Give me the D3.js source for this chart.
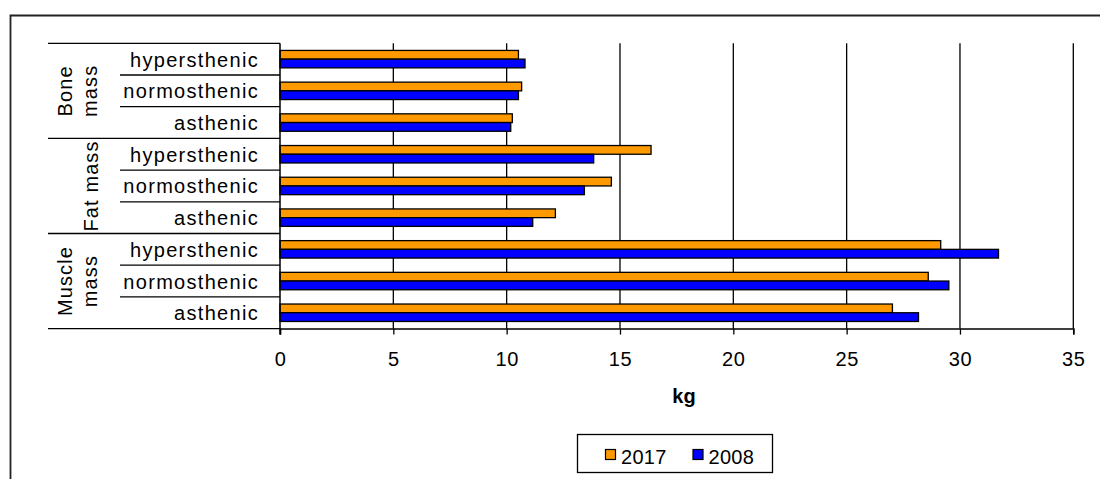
<!DOCTYPE html>
<html>
<head>
<meta charset="utf-8">
<script src="https://cdn.jsdelivr.net/npm/d3@7"></script>
<style>
  html, body { margin: 0; padding: 0; background: #fff; }
  svg { display: block; }
  text { font-family: "Liberation Sans", Arial, sans-serif; fill: #000; }
</style>
</head>
<body>
<svg id="chart" width="1100" height="479"></svg>
<script>
// Body composition by constitution type, kg
const groups = ["Bone mass", "Fat mass", "Muscle mass"];
const groupLines = [["Bone", "mass"], ["Fat mass"], ["Muscle", "mass"]];
const bodyTypes = ["hypersthenic", "normosthenic", "asthenic"];
const seriesNames = ["2017", "2008"];
const seriesColors = ["#FF9900", "#0000FF"];
// values listed top to bottom: bone (hyper, normo, asthenic), fat (...), muscle (...)
const values2017 = [10.52, 10.66, 10.25, 16.37, 14.62, 12.15, 29.15, 28.60, 27.02];
const values2008 = [10.81, 10.52, 10.18, 13.84, 13.43, 11.15, 31.70, 29.51, 28.17];
const xTicks = [0, 5, 10, 15, 20, 25, 30, 35];
const xTitle = "kg";

const rows = [];
groups.forEach((g, gi) => bodyTypes.forEach((t, ti) => {
  const i = gi * bodyTypes.length + ti;
  rows.push({ id: i, group: g, type: t, values: [values2017[i], values2008[i]] });
}));

const svg = d3.select("#chart");
const ink = "#000";

// outer chart frame (left and top edges)
svg.append("path")
  .attr("d", "M10.5,479 L10.5,15.5 L1100,15.5")
  .attr("fill", "none").attr("stroke", "#222").attr("stroke-width", 1.8);

const plot = { left: 280, right: 1073.3, top: 43.3, bottom: 328.6 };

const x = d3.scaleLinear().domain([0, 35]).range([plot.left, plot.right]);
const y = d3.scaleBand().domain(rows.map(d => d.id))
  .range([plot.top, plot.bottom]).paddingInner(0.45).paddingOuter(0.225);
const ySub = d3.scaleBand().domain(d3.range(seriesNames.length)).range([0, y.bandwidth()]);
const step = y.step();

// vertical gridlines
svg.append("g").selectAll("line")
  .data(xTicks.filter(t => t > 0))
  .join("line")
  .attr("x1", d => x(d)).attr("x2", d => x(d))
  .attr("y1", plot.top).attr("y2", plot.bottom)
  .attr("stroke", ink).attr("stroke-width", 1.3);

// bars
const rowG = svg.append("g").selectAll("g")
  .data(rows).join("g")
  .attr("transform", d => `translate(0,${y(d.id)})`);
rowG.selectAll("rect")
  .data(d => d.values.map((v, si) => ({ v, si })))
  .join("rect")
  .attr("x", x(0))
  .attr("y", d => ySub(d.si))
  .attr("width", d => x(d.v) - x(0))
  .attr("height", ySub.bandwidth())
  .attr("fill", d => seriesColors[d.si])
  .attr("stroke", ink).attr("stroke-width", 1.3);

// x axis
const xAxis = d3.axisBottom(x).tickValues(xTicks).tickSize(6).tickPadding(17)
  .tickFormat(d3.format("d"));
const xg = svg.append("g").attr("transform", `translate(0,${plot.bottom})`).call(xAxis);
xg.select(".domain").attr("stroke", ink).attr("stroke-width", 1.5);
xg.selectAll(".tick line").attr("stroke", ink).attr("stroke-width", 1.3);
xg.selectAll(".tick text")
  .style("font-family", '"Liberation Sans", Arial, sans-serif')
  .style("font-size", "20px").attr("fill", ink).style("letter-spacing", "0.6px");

// category axis line
svg.append("line")
  .attr("x1", plot.left).attr("x2", plot.left)
  .attr("y1", plot.top).attr("y2", plot.bottom + 6)
  .attr("stroke", ink).attr("stroke-width", 1.5);

// multi-level category axis: separators
const bounds = d3.range(rows.length + 1).map(i => plot.top + i * step);
svg.append("g").selectAll("line")
  .data(bounds)
  .join("line")
  .attr("x1", (d, i) => i % bodyTypes.length === 0 ? 48 : 120)
  .attr("x2", plot.left)
  .attr("y1", d => d).attr("y2", d => d)
  .attr("stroke", ink).attr("stroke-width", 1.3);

// body type labels
svg.append("g").selectAll("text")
  .data(rows).join("text")
  .attr("x", 259)
  .attr("y", d => y(d.id) - y.paddingOuter() * step + step / 2 + 7.5)
  .attr("text-anchor", "end")
  .style("font-size", "20px").style("letter-spacing", "1.3px")
  .text(d => d.type);

// group labels, rotated
const groupG = svg.append("g").selectAll("g")
  .data(groups).join("g")
  .attr("transform", (d, gi) => {
    const cy = plot.top + (gi + 0.5) * bodyTypes.length * step;
    return `translate(0,${cy})`;
  });
groupG.each(function(d, gi) {
  const lines = groupLines[gi];
  const baselines = lines.length === 1 ? [98] : [72, 97];
  d3.select(this).selectAll("text")
    .data(lines).join("text")
    .attr("transform", (t, li) => `translate(${baselines[li]},0) rotate(-90)`)
    .attr("text-anchor", "middle")
    .style("font-size", "20px").style("letter-spacing", "1.1px")
    .text(t => t);
});

// axis title
svg.append("text")
  .attr("x", 684).attr("y", 403)
  .attr("text-anchor", "middle")
  .style("font-size", "20px").style("font-weight", "bold")
  .text(xTitle);

// legend
const legend = svg.append("g");
legend.append("rect")
  .attr("x", 577.5).attr("y", 434.5).attr("width", 195).attr("height", 38)
  .attr("fill", "#fff").attr("stroke", ink).attr("stroke-width", 1.3);
const legendX = [605, 692.5];
const items = legend.selectAll("g.item")
  .data(seriesNames).join("g").attr("class", "item")
  .attr("transform", (d, i) => `translate(${legendX[i]},0)`);
items.append("rect")
  .attr("x", 0.5).attr("y", 449.5).attr("width", 10).attr("height", 10)
  .attr("fill", (d, i) => seriesColors[i])
  .attr("stroke", ink).attr("stroke-width", 1.2);
items.append("text")
  .attr("x", 16).attr("y", 463.5)
  .style("font-size", "20px").style("letter-spacing", "0.3px")
  .text(d => d);
</script>
</body>
</html>
